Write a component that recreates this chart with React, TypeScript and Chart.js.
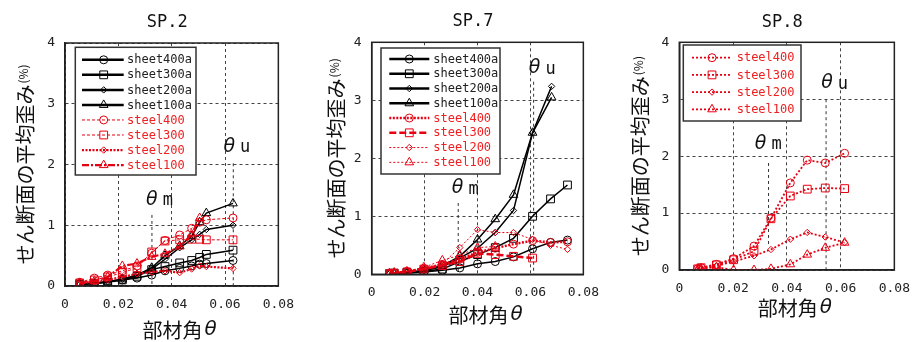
import React, { useEffect, useRef } from "react";
import { Chart, registerables } from "chart.js";
Chart.register(...registerables);

// ---------------- data: SP.2 ----------------
const sp2Theta = [0.0055, 0.011, 0.016, 0.0215, 0.027, 0.0325, 0.0375, 0.043, 0.0475, 0.0505, 0.053, 0.063];
const sp2Sheet400a = [0.03, 0.05, 0.07, 0.10, 0.13, 0.18, 0.25, 0.29, 0.33, 0.36, 0.37, 0.42];
const sp2Sheet300a = [0.03, 0.04, 0.06, 0.10, 0.16, 0.27, 0.32, 0.38, 0.42, 0.47, 0.52, 0.59];
const sp2Sheet200a = [0.03, 0.05, 0.07, 0.11, 0.18, 0.28, 0.44, 0.63, 0.76, 0.85, 0.93, 1.00];
const sp2Sheet100a = [0.03, 0.04, 0.07, 0.11, 0.18, 0.30, 0.50, 0.66, 0.82, 1.05, 1.20, 1.36];
const sp2Steel400 = [0.06, 0.13, 0.18, 0.25, 0.33, 0.54, 0.75, 0.84, 0.95, 1.05, 1.09, 1.12];
const sp2Steel300 = [0.05, 0.10, 0.15, 0.22, 0.30, 0.56, 0.74, 0.76, 0.77, 0.77, 0.76, 0.76];
const sp2Steel200 = [0.04, 0.07, 0.10, 0.15, 0.20, 0.23, 0.25, 0.22, 0.28, 0.33, 0.32, 0.29];
const sp2Steel100Theta = [0.0055, 0.011, 0.016, 0.0215, 0.027, 0.0325, 0.0375, 0.043, 0.0475, 0.0505];
const sp2Steel100 = [0.05, 0.08, 0.15, 0.33, 0.37, 0.48, 0.53, 0.65, 0.85, 1.12];
const sp2ThetaLineX = [0.0326, 0.0631];
const sp2ThetaLineTop = [1.17, 2.02];
const sp2ThetaLineBottom = [0, 0];

// ---------------- data: SP.7 ----------------
const sp7Theta = [0.0067, 0.0085, 0.0133, 0.0197, 0.0267, 0.0333, 0.04, 0.0467, 0.0536, 0.0608, 0.0676, 0.074];
const sp7ThetaShort = [0.0067, 0.0085, 0.0133, 0.0197, 0.0267, 0.0333, 0.04, 0.0467, 0.0536, 0.0608, 0.068];
const sp7Sheet400a = [0.01, 0.02, 0.02, 0.04, 0.07, 0.11, 0.18, 0.22, 0.30, 0.44, 0.55, 0.59];
const sp7Sheet300a = [0.01, 0.02, 0.03, 0.05, 0.09, 0.22, 0.34, 0.46, 0.62, 1.00, 1.30, 1.54];
const sp7Sheet200a = [0.01, 0.02, 0.03, 0.06, 0.13, 0.28, 0.45, 0.72, 1.10, 2.44, 3.24];
const sp7Sheet100a = [0.01, 0.02, 0.03, 0.07, 0.15, 0.31, 0.60, 0.95, 1.37, 2.44, 3.05];
const sp7Steel400 = [0.01, 0.02, 0.05, 0.10, 0.17, 0.26, 0.38, 0.45, 0.52, 0.58, 0.55, 0.56];
const sp7Steel300Theta = [0.0067, 0.0085, 0.0133, 0.0197, 0.0267, 0.0333, 0.04, 0.0467, 0.0536, 0.0608];
const sp7Steel300 = [0.01, 0.02, 0.04, 0.09, 0.15, 0.22, 0.36, 0.34, 0.31, 0.28];
const sp7Steel200 = [0.02, 0.03, 0.05, 0.10, 0.18, 0.46, 0.77, 0.72, 0.72, 0.60, 0.50, 0.43];
const sp7Steel100Theta = [0.0067, 0.0085, 0.0133, 0.0197, 0.0267, 0.0333, 0.04, 0.0467];
const sp7Steel100 = [0.02, 0.03, 0.05, 0.12, 0.24, 0.33, 0.46, 0.48];
const sp7ThetaLineX = [0.0327, 0.0612];
const sp7ThetaLineTop = [1.23, 3.32];
const sp7ThetaLineBottom = [0, 0];

// ---------------- data: SP.8 ----------------
const sp8Theta = [0.0068, 0.0081, 0.0138, 0.0202, 0.0278, 0.0341, 0.0413, 0.0476, 0.0543, 0.0615];
const sp8Steel400 = [0.02, 0.04, 0.10, 0.20, 0.42, 0.91, 1.53, 1.93, 1.88, 2.05];
const sp8Steel300 = [0.02, 0.04, 0.09, 0.18, 0.33, 0.90, 1.30, 1.42, 1.44, 1.43];
const sp8Steel200 = [0.01, 0.02, 0.07, 0.15, 0.25, 0.36, 0.54, 0.66, 0.58, 0.48];
const sp8Steel100 = [0.01, 0.02, 0.05, 0.00, 0.00, 0.02, 0.10, 0.27, 0.39, 0.48];
const sp8ThetaLineX = [0.0332, 0.0546];
const sp8ThetaLineTop = [1.88, 3.0];
const sp8ThetaLineBottom = [0.45, 0];

// axis ticks
const xTicks = [0, 0.02, 0.04, 0.06, 0.08];
const yTicks = [0, 1, 2, 3, 4];

const BLACK = "#000000";
const RED = "#e60012";
const RED_TEXT = "#f02020";
const MONO = "'DejaVu Sans Mono', monospace";
const JP = "'Noto Sans CJK JP', sans-serif";

type Style = { color: string; width: number; dash: number[]; marker: string; radius: number; legendWidth: number };
type Series = { label: string; x: number[]; y: number[]; style: Style; red: boolean };

const sheet = (marker: string, radius: number): Style => ({ color: BLACK, width: 1.5, dash: [], marker, radius, legendWidth: 2.5 });
const steel = (marker: string, radius: number, width: number, dash: number[]): Style => ({ color: RED, width, dash, marker, radius, legendWidth: width });

const sheetSeries = (xs: number[], a: number[], b: number[], c: number[], d: number[], xs2?: number[]): Series[] => [
  { label: "sheet400a", x: xs, y: a, style: sheet("circle", 4), red: false },
  { label: "sheet300a", x: xs, y: b, style: sheet("rect", 5.5), red: false },
  { label: "sheet200a", x: xs2 || xs, y: c, style: sheet("rectRot", 3.2), red: false },
  { label: "sheet100a", x: xs2 || xs, y: d, style: sheet("triangle", 5), red: false },
];

type Panel = {
  name: string;
  left: number;
  width: number;
  plot: { l: number; r: number; t: number; b: number };
  padBottom: number;
  yTitleX: number;
  xTitleY: number;
  titleY: number;
  legend: { l: number; t: number; r: number; b: number; y0: number; dy: number; x0: number; x1: number; mx: number; tx: number };
  series: Series[];
  lines: { x: number[]; top: number[]; bottom: number[] };
  labels: { t: string; x: number; y: number }[];
};

const panels: Panel[] = [
  {
    name: "SP.2",
    left: 0,
    width: 305,
    plot: { l: 65, r: 284, t: 43, b: 286 },
    padBottom: 1,
    yTitleX: 25,
    xTitleY: 330,
    titleY: 23,
    legend: { l: 75.3, t: 47.3, r: 196, b: 175, y0: 59.8, dy: 15.04, x0: 82, x1: 123.7, mx: 103.7, tx: 127 },
    series: [
      ...sheetSeries(sp2Theta, sp2Sheet400a, sp2Sheet300a, sp2Sheet200a, sp2Sheet100a),
      { label: "steel400", x: sp2Theta, y: sp2Steel400, style: steel("circle", 4, 1, [3, 2]), red: true },
      { label: "steel300", x: sp2Theta, y: sp2Steel300, style: steel("rect", 5.5, 1, [3, 2]), red: true },
      { label: "steel200", x: sp2Theta, y: sp2Steel200, style: steel("rectRot", 3.2, 2.2, [2, 1.5]), red: true },
      { label: "steel100", x: sp2Steel100Theta, y: sp2Steel100, style: steel("triangle", 5, 2.2, [7, 2, 2, 2]), red: true },
    ],
    lines: { x: sp2ThetaLineX, top: sp2ThetaLineTop, bottom: sp2ThetaLineBottom },
    labels: [
      { t: "m", x: 0.0304, y: 1.42 },
      { t: "u", x: 0.0594, y: 2.29 },
    ],
  },
  {
    name: "SP.7",
    left: 305,
    width: 305,
    plot: { l: 66.7, r: 286.7, t: 42.3, b: 274.3 },
    padBottom: 16,
    yTitleX: 31.7,
    xTitleY: 315,
    titleY: 22,
    legend: { l: 76, t: 48, r: 195, b: 174, y0: 59, dy: 14.76, x0: 84.3, x1: 124.3, mx: 104.3, tx: 128.3 },
    series: [
      ...sheetSeries(sp7Theta, sp7Sheet400a, sp7Sheet300a, sp7Sheet200a, sp7Sheet100a, sp7ThetaShort),
      { label: "steel400", x: sp7Theta, y: sp7Steel400, style: steel("circle", 4, 2.5, [2, 1.5]), red: true },
      { label: "steel300", x: sp7Steel300Theta, y: sp7Steel300, style: steel("rect", 5.5, 2.5, [7, 3]), red: true },
      { label: "steel200", x: sp7Theta, y: sp7Steel200, style: steel("rectRot", 3.2, 1, [2, 2]), red: true },
      { label: "steel100", x: sp7Steel100Theta, y: sp7Steel100, style: steel("triangle", 5, 1, [2, 2]), red: true },
    ],
    lines: { x: sp7ThetaLineX, top: sp7ThetaLineTop, bottom: sp7ThetaLineBottom },
    labels: [
      { t: "m", x: 0.0303, y: 1.48 },
      { t: "u", x: 0.0594, y: 3.55 },
    ],
  },
  {
    name: "SP.8",
    left: 610,
    width: 311,
    plot: { l: 69.3, r: 290, t: 42.3, b: 270 },
    padBottom: 23,
    yTitleX: 30,
    xTitleY: 308,
    titleY: 23,
    legend: { l: 73.3, t: 45, r: 191, b: 121, y0: 57.7, dy: 17.2, x0: 82, x1: 121, mx: 102, tx: 126.7 },
    series: [
      { label: "steel400", x: sp8Theta, y: sp8Steel400, style: steel("circle", 4, 1.8, [2, 2]), red: true },
      { label: "steel300", x: sp8Theta, y: sp8Steel300, style: steel("rect", 5.5, 1.8, [2, 2]), red: true },
      { label: "steel200", x: sp8Theta, y: sp8Steel200, style: steel("rectRot", 3.2, 1.8, [2, 2]), red: true },
      { label: "steel100", x: sp8Theta, y: sp8Steel100, style: steel("triangle", 5, 1.8, [2, 2]), red: true },
    ],
    lines: { x: sp8ThetaLineX, top: sp8ThetaLineTop, bottom: sp8ThetaLineBottom },
    labels: [
      { t: "m", x: 0.0281, y: 2.22 },
      { t: "u", x: 0.0528, y: 3.28 },
    ],
  },
];

function drawMarker(ctx: CanvasRenderingContext2D, marker: string, r: number, x: number, y: number) {
  ctx.beginPath();
  if (marker === "circle") {
    ctx.arc(x, y, r, 0, Math.PI * 2);
  } else if (marker === "rect") {
    const s = Math.SQRT1_2 * r;
    ctx.rect(x - s, y - s, 2 * s, 2 * s);
  } else if (marker === "rectRot") {
    ctx.moveTo(x - r, y);
    ctx.lineTo(x, y - r);
    ctx.lineTo(x + r, y);
    ctx.lineTo(x, y + r);
    ctx.closePath();
  } else {
    let a = 0;
    ctx.moveTo(x + Math.sin(a) * r, y - Math.cos(a) * r);
    a += (2 * Math.PI) / 3;
    ctx.lineTo(x + Math.sin(a) * r, y - Math.cos(a) * r);
    a += (2 * Math.PI) / 3;
    ctx.lineTo(x + Math.sin(a) * r, y - Math.cos(a) * r);
    ctx.closePath();
  }
  ctx.stroke();
}

function drawTheta(ctx: CanvasRenderingContext2D, x: number, y: number, size: number) {
  ctx.font = `italic ${size}px 'DejaVu Sans', sans-serif`;
  ctx.fillText("θ", x, y);
  return ctx.measureText("θ").width;
}

function makePlugin(p: Panel) {
  return {
    id: "decor",
    beforeDatasetsDraw(chart: any) {
      const { ctx, scales } = chart;
      const xs = scales.x;
      const ys = scales.y;
      ctx.save();
      ctx.strokeStyle = "#333";
      ctx.lineWidth = 1;
      ctx.setLineDash([3, 3]);
      p.lines.x.forEach((xv, i) => {
        const px = xs.getPixelForValue(xv);
        ctx.beginPath();
        ctx.moveTo(px, ys.getPixelForValue(p.lines.top[i]));
        ctx.lineTo(px, ys.getPixelForValue(p.lines.bottom[i]));
        ctx.stroke();
      });
      ctx.restore();
    },
    afterDraw(chart: any) {
      const { ctx, chartArea: a, scales } = chart;
      const xs = scales.x;
      const ys = scales.y;
      ctx.save();
      // frame
      ctx.setLineDash([]);
      ctx.strokeStyle = "#222";
      ctx.lineWidth = 1.5;
      ctx.strokeRect(a.left, a.top, a.right - a.left, a.bottom - a.top);

      // theta labels
      ctx.textBaseline = "middle";
      ctx.textAlign = "left";
      ctx.fillStyle = "#111";
      p.labels.forEach((lb) => {
        const px = xs.getPixelForValue(lb.x);
        const py = ys.getPixelForValue(lb.y);
        const w = drawTheta(ctx, px, py, 19);
        ctx.font = `17px ${MONO}`;
        ctx.fillText(lb.t, px + w + 5, py + 1);
      });

      // legend
      const L = p.legend;
      ctx.fillStyle = "#fff";
      ctx.fillRect(L.l, L.t, L.r - L.l, L.b - L.t);
      ctx.strokeStyle = "#333";
      ctx.lineWidth = 1.5;
      ctx.strokeRect(L.l, L.t, L.r - L.l, L.b - L.t);
      p.series.forEach((s, i) => {
        const y = L.y0 + i * L.dy;
        ctx.strokeStyle = s.style.color;
        ctx.lineWidth = s.style.legendWidth;
        ctx.setLineDash(s.style.dash);
        ctx.beginPath();
        ctx.moveTo(L.x0, y);
        ctx.lineTo(L.x1, y);
        ctx.stroke();
        ctx.setLineDash([]);
        ctx.lineWidth = 1;
        ctx.fillStyle = "#fff";
        drawMarker(ctx, s.style.marker, s.style.radius, L.mx, y);
        ctx.fillStyle = s.red ? RED_TEXT : "#222";
        ctx.font = `12px ${MONO}`;
        ctx.textAlign = "left";
        ctx.textBaseline = "middle";
        ctx.fillText(s.label, L.tx, y + 0.5);
      });

      // title
      const cx = (a.left + a.right) / 2;
      ctx.fillStyle = "#111";
      ctx.font = `17px ${MONO}`;
      ctx.textAlign = "center";
      ctx.textBaseline = "middle";
      ctx.fillText(p.name, cx - 4.5, p.titleY);

      // x title
      ctx.font = `20px ${JP}`;
      const main = "部材角";
      const mw = ctx.measureText(main).width;
      ctx.font = `italic 20px 'DejaVu Sans', sans-serif`;
      const tw = ctx.measureText("θ").width;
      const total = mw + tw + 2;
      const sx = cx + 8 - total / 2;
      ctx.textAlign = "left";
      ctx.font = `20px ${JP}`;
      ctx.fillText(main, sx, p.xTitleY);
      drawTheta(ctx, sx + mw + 2, p.xTitleY, 20);

      // y title (rotated)
      const cy = (a.top + a.bottom) / 2;
      ctx.translate(p.yTitleX, cy);
      ctx.rotate(-Math.PI / 2);
      const ytext = "せん断面の平均歪み";
      ctx.font = `20px ${JP}`;
      const yw = ctx.measureText(ytext).width;
      ctx.font = `12px ${JP}`;
      const pw = ctx.measureText("(%)").width;
      const ytot = yw + pw + 1;
      ctx.textAlign = "left";
      ctx.font = `20px ${JP}`;
      ctx.fillText(ytext, -ytot / 2, 0);
      ctx.font = `12px ${JP}`;
      ctx.fillText("(%)", -ytot / 2 + yw + 1, -2);
      ctx.restore();
    },
  };
}

function PanelChart({ p }: { p: Panel }) {
  const ref = useRef<HTMLCanvasElement | null>(null);
  useEffect(() => {
    if (!ref.current) return;
    const H = 342;
    const chart = new Chart(ref.current, {
      type: "line",
      data: {
        datasets: p.series.map((s) => ({
          label: s.label,
          data: s.x.map((x, i) => ({ x, y: s.y[i] })),
          borderColor: s.style.color,
          backgroundColor: "rgba(0,0,0,0)",
          borderWidth: s.style.width,
          borderDash: s.style.dash,
          pointStyle: s.style.marker as any,
          pointRadius: s.style.radius,
          pointBorderWidth: 1,
          pointBorderColor: s.style.color,
          pointBackgroundColor: "rgba(0,0,0,0)",
          tension: 0,
          fill: false,
          order: s.red ? 0 : 1,
        })),
      },
      options: {
        animation: false,
        responsive: false,
        maintainAspectRatio: false,
        layout: { padding: { left: 0, top: p.plot.t, right: p.width - p.plot.r, bottom: p.padBottom } },
        plugins: { legend: { display: false }, tooltip: { enabled: false }, title: { display: false } },
        scales: {
          x: {
            type: "linear",
            min: xTicks[0],
            max: xTicks[xTicks.length - 1],
            afterFit: (s: any) => {
              s.height = H - p.padBottom - p.plot.b;
            },
            afterBuildTicks: (s: any) => {
              s.ticks = xTicks.map((v) => ({ value: v }));
            },
            ticks: {
              padding: 11,
              color: "#222",
              font: { family: MONO, size: 13 },
              autoSkip: false,
              maxRotation: 0,
              callback: (v: any) => (Number(v) === 0 ? "0" : Number(v).toFixed(2)),
            },
            grid: { color: "#444", lineWidth: 1, drawTicks: false },
            border: { display: true, color: "#222", width: 1.5, dash: [3, 3] },
          },
          y: {
            type: "linear",
            min: yTicks[0],
            max: yTicks[yTicks.length - 1],
            afterFit: (s: any) => {
              s.width = p.plot.l;
            },
            afterBuildTicks: (s: any) => {
              s.ticks = yTicks.map((v) => ({ value: v }));
            },
            ticks: {
              padding: 10,
              color: "#222",
              font: { family: MONO, size: 13 },
              callback: (v: any) => String(v),
            },
            grid: { color: "#444", lineWidth: 1, drawTicks: false },
            border: { display: true, color: "#222", width: 1.5, dash: [3, 3] },
          },
        },
      } as any,
      plugins: [makePlugin(p)],
    });
    return () => chart.destroy();
  }, [p]);
  return (
    <canvas
      ref={ref}
      width={p.width}
      height={342}
      style={{ position: "absolute", left: p.left, top: 0, width: p.width, height: 342 }}
    />
  );
}

export default function App() {
  return (
    <div style={{ position: "absolute", left: 0, top: 0, width: 921, height: 342, background: "#fff" }}>
      {panels.map((p) => (
        <PanelChart key={p.name} p={p} />
      ))}
    </div>
  );
}
